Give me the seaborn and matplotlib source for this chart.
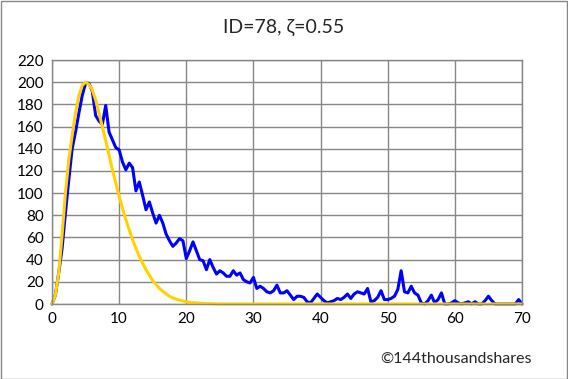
import numpy as np
import pandas as pd
import matplotlib
matplotlib.use("Agg")
import matplotlib.pyplot as plt
import seaborn as sns

# observed counts (blue), sampled every 0.5
obs_x = [i * 0.5 for i in range(141)]
obs_y = [0, 8, 28, 50, 82, 112, 140, 155, 172, 188,
         199, 199, 192, 170, 165, 162, 179, 155, 148, 141,
         139, 128, 121, 127, 123, 102, 110, 98, 85, 92,
         82, 73, 80, 73, 63, 57, 52, 55, 59, 57,
         41, 48, 56, 48, 40, 39, 31, 40, 33, 27,
         30, 28, 25, 25, 30, 26, 28, 22, 20, 19,
         24, 14, 16, 14, 11, 10, 12, 17, 10, 10,
         12, 8, 4, 7, 7, 6, 2, 1, 5, 9,
         6, 3, 1, 2, 3, 5, 4, 6, 9, 5,
         9, 11, 10, 9, 14, 2, 3, 6, 12, 4,
         4, 5, 7, 13, 30, 11, 10, 16, 10, 8,
         1, 0, 3, 8, 1, 4, 10, 0, 0, 1,
         3, 1, 0, 1, 2, 0, 2, 0, 0, 3,
         7, 3, 0, 0, 0, 0, 0, 0, 0, 4,
         0]

# fitted curve (yellow)
fit_x = [0, 0.5, 1, 1.5, 2, 2.5, 3, 3.5, 4, 4.5, 5, 5.5, 6, 6.5, 7, 7.5,
         8, 8.5, 9, 9.5, 10, 10.5, 11, 11.5, 12, 12.5, 13, 13.5, 14, 14.5,
         15, 15.5, 16, 16.5, 17, 17.5, 18, 18.5, 19, 19.5, 20, 20.5, 21,
         22, 23, 24, 25, 26, 30, 40, 50, 60, 70]
fit_y = [0, 8, 28, 62, 100, 130, 152, 172, 188, 197, 200, 198, 193, 184, 172, 160,
         147, 134, 121, 109, 97, 86, 76, 67, 58, 50, 43, 37, 31, 26,
         21, 17.5, 14, 11.5, 9, 7, 5.5, 4.5, 3.5, 2.7, 2, 1.5, 1.2,
         0.7, 0.4, 0.2, 0.1, 0, 0, 0, 0, 0, 0]

title = "ID=78, \u03b6=0.55"
credit = "\u00a9144thousandshares"

sns.set_style("white")
plt.rcParams['font.family'] = ['Lato', 'DejaVu Sans']

fig = plt.figure(figsize=(5.68, 3.79), dpi=100)
ax = fig.add_axes([52 / 568, 1 - 304 / 379, 470 / 568, 244 / 379])

obs = pd.DataFrame({"x": obs_x, "y": obs_y})
fit = pd.DataFrame({"x": fit_x, "y": fit_y})
sns.lineplot(data=obs, x="x", y="y", ax=ax, color="#0000FF", lw=2.2, clip_on=False)
sns.lineplot(data=fit, x="x", y="y", ax=ax, color="#FFD200", lw=2.2, clip_on=False)

ax.set_xlim(0, 70)
ax.set_ylim(0, 220)
ax.set_xticks(range(0, 71, 10))
ax.set_yticks(range(0, 221, 20))
ax.set_xlabel("")
ax.set_ylabel("")
ax.grid(True, color="#878787", lw=1.0)
ax.set_axisbelow(True)
for s in ax.spines.values():
    s.set_color("#878787")
    s.set_linewidth(1.0)
ax.tick_params(length=0, labelsize=11, colors="black", pad=6)

fig.text(0.5, 1 - 27 / 379, title, ha="center", va="center", fontsize=14)
fig.text(532 / 568, 1 - 359 / 379, credit, ha="right", va="center", fontsize=11.5)

# outer border like the chart frame
fig.patches.append(plt.Rectangle((0.001, 0.001), 0.997, 0.997, transform=fig.transFigure,
                                 fill=False, edgecolor="#878787", lw=1.0))

fig.savefig("out.png", dpi=100)
